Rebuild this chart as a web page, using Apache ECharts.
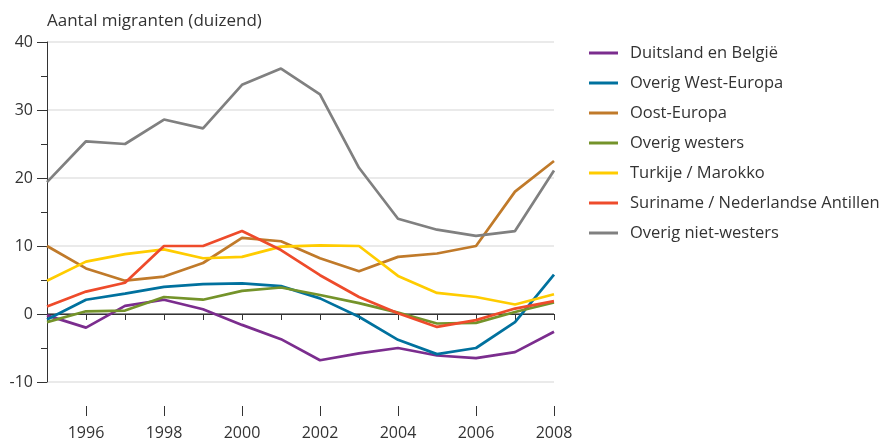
<!DOCTYPE html>
<html lang="nl">
  <head>
    <meta charset="utf-8" />
    <title>Aantal migranten</title>
    <script src="https://cdn.jsdelivr.net/npm/echarts@6/dist/echarts.min.js"></script>
    <style>
      html, body { margin: 0; padding: 0; background: #fff; }
      #main { width: 884px; height: 444px; }
    </style>
  </head>
  <body>
    <div id="main"></div>
    <script>
      // jaren en reeksen (duizenden)
      var years = [1995, 1996, 1997, 1998, 1999, 2000, 2001, 2002, 2003, 2004, 2005, 2006, 2007, 2008];
      var duitslandBelgie = [-0.2, -2.0, 1.2, 2.1, 0.7, -1.6, -3.7, -6.8, -5.8, -5.0, -6.1, -6.5, -5.6, -2.6];
      var overigWestEuropa = [-0.8, 2.1, 3.0, 4.0, 4.4, 4.5, 4.1, 2.3, -0.4, -3.8, -5.9, -5.0, -1.2, 5.8];
      var oostEuropa = [10.0, 6.7, 4.9, 5.5, 7.5, 11.2, 10.7, 8.2, 6.3, 8.4, 8.9, 10.0, 18.0, 22.5];
      var overigWesters = [-1.2, 0.4, 0.5, 2.5, 2.1, 3.4, 3.9, 2.8, 1.6, 0.2, -1.4, -1.3, 0.3, 1.7];
      var turkijeMarokko = [4.9, 7.7, 8.8, 9.5, 8.2, 8.4, 9.9, 10.1, 10.0, 5.6, 3.1, 2.5, 1.4, 2.9];
      var surinameAntillen = [1.1, 3.3, 4.6, 10.0, 10.0, 12.2, 9.4, 5.7, 2.5, 0.1, -1.9, -0.9, 0.8, 1.9];
      var overigNietWesters = [19.4, 25.4, 25.0, 28.6, 27.3, 33.7, 36.1, 32.3, 21.5, 14.0, 12.4, 11.5, 12.2, 21.1];

      var seriesNames = [
        "Duitsland en België",
        "Overig West-Europa",
        "Oost-Europa",
        "Overig westers",
        "Turkije / Marokko",
        "Suriname / Nederlandse Antillen",
        "Overig niet-westers"
      ];
      var seriesData = [duitslandBelgie, overigWestEuropa, oostEuropa, overigWesters, turkijeMarokko, surinameAntillen, overigNietWesters];
      var colors = ["#7b2d8e", "#00719e", "#c07a2a", "#74932a", "#ffcc00", "#ee4b2b", "#808080"];

      var labelYears = [1996, 1998, 2000, 2002, 2004, 2006, 2008];
      var font = "Open Sans";

      var chart = echarts.init(document.getElementById("main"));

      var series = seriesNames.map(function (name, i) {
        return {
          name: name,
          type: "line",
          symbol: "none",
          xAxisIndex: 0,
          lineStyle: { width: 2.7, color: colors[i] },
          itemStyle: { color: colors[i] },
          z: 3 + i,
          data: years.map(function (y, j) {
            return [y, seriesData[i][j]];
          })
        };
      });

      var option = {
        animation: false,
        color: colors,
        title: {
          text: "Aantal migranten (duizend)",
          left: 42,
          top: 8,
          textStyle: { fontFamily: font, fontSize: 17, fontWeight: "normal", color: "#333" }
        },
        legend: {
          orient: "vertical",
          left: 584,
          top: 37,
          icon: "rect",
          itemWidth: 29,
          itemHeight: 3,
          itemGap: 8,
          textStyle: { fontFamily: font, fontSize: 16.5, color: "#333", padding: [0, 0, 0, 7], lineHeight: 22 },
          data: seriesNames
        },
        grid: { left: 47, right: 330, top: 42, bottom: 62 },
        xAxis: [
          {
            type: "value",
            min: 1995,
            max: 2008,
            interval: 1,
            position: "bottom",
            offset: 24,
            axisLine: { show: true, lineStyle: { color: "#333", width: 1 } },
            axisTick: { show: true, length: 6, lineStyle: { color: "#333" } },
            axisLabel: { show: false },
            splitLine: { show: false }
          },
          {
            type: "value",
            min: 1995,
            max: 2008,
            position: "bottom",
            offset: 24,
            axisLine: { show: false },
            axisTick: { show: true, length: 10, customValues: labelYears, lineStyle: { color: "#333" } },
            axisLabel: {
              show: true,
              customValues: labelYears,
              formatter: function (v) { return String(v); },
              margin: 19,
              fontFamily: font,
              fontSize: 16,
              color: "#333"
            },
            splitLine: { show: false }
          }
        ],
        yAxis: {
          type: "value",
          min: -10,
          max: 40,
          interval: 10,
          axisLine: { show: true, lineStyle: { color: "#333", width: 1 } },
          axisTick: { show: true, length: 10, lineStyle: { color: "#333" } },
          minorTick: { show: true, splitNumber: 2, length: 6, lineStyle: { color: "#333" } },
          axisLabel: { fontFamily: font, fontSize: 16, color: "#333", margin: 14 },
          splitLine: {
            show: true,
            lineStyle: {
              color: ["#e3e3e3", "#666666", "#e3e3e3", "#e3e3e3", "#e3e3e3", "#e3e3e3"],
              width: 1.5
            }
          }
        },
        series: series
      };

      chart.setOption(option);
    </script>
  </body>
</html>
